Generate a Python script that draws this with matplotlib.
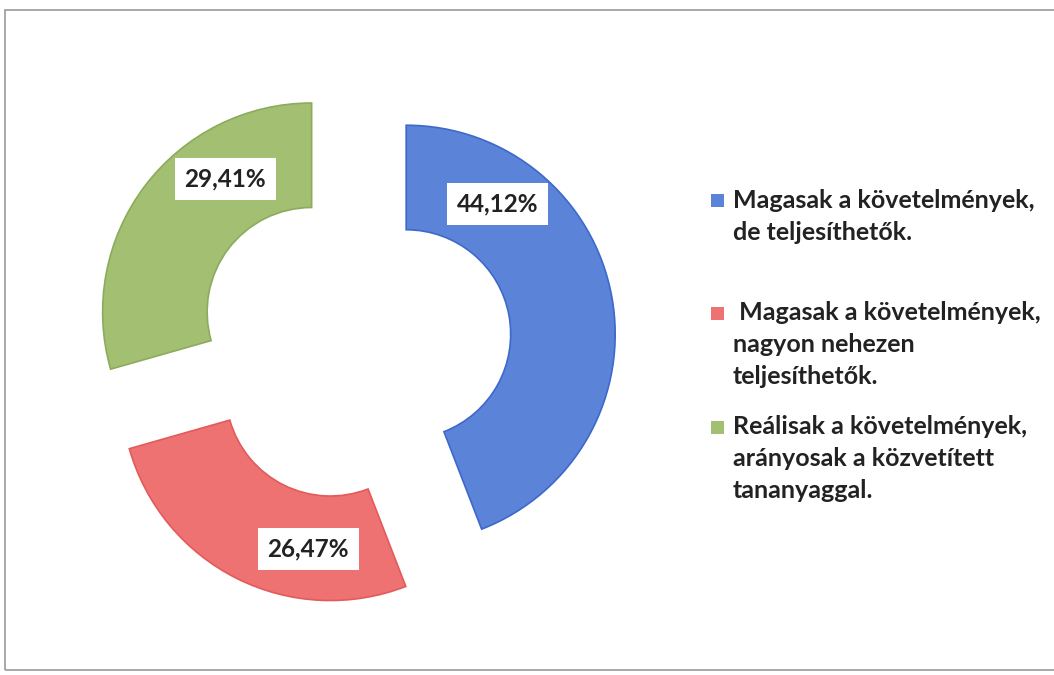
import matplotlib
matplotlib.use("Agg")
import matplotlib.pyplot as plt
from matplotlib.patches import Rectangle
import numpy as np

# ---- data ----
categories = [
    "Magasak a követelmények,\nde teljesíthetők.",
    " Magasak a követelmények,\nnagyon nehezen\nteljesíthetők.",
    "Reálisak a követelmények,\narányosak a közvetített\ntananyaggal.",
]
values = [44.12, 26.47, 29.41]
value_labels = ["44,12%", "26,47%", "29,41%"]

# ---- style ----
colors = ["#5b83d8", "#ef7272", "#a3bf72"]
edges = ["#3d68cc", "#e35a5a", "#8cab5c"]
label_angles = [55, -98, 123]   # where the value boxes sit on each ring segment
FONT = "Lato"

W, H = 1054, 675
CX, CY, R = 354, 344, 209  # pixel geometry of the donut


def px(x, y):
    return (x - CX) / R, (CY - y) / R


fig = plt.figure(figsize=(W / 100, H / 100), dpi=100)
ax = fig.add_axes([0, 0, 1, 1])

wedges, _ = ax.pie(values, colors=colors, startangle=90, counterclock=False,
                   radius=1, explode=[0.254] * 3,
                   wedgeprops=dict(width=0.5, linewidth=1.2))
for w, ec in zip(wedges, edges):
    w.set_edgecolor(ec)

ax.set_xlim(px(0, 0)[0], px(W, 0)[0])
ax.set_ylim(px(0, H)[1], px(0, 0)[1])
ax.set_aspect("equal")
ax.axis("off")

# frame
x0, y0 = px(5, 10)
x1, y1 = px(1064, 670)
ax.add_patch(Rectangle((x0, y1), x1 - x0, y0 - y1, fill=False,
                       edgecolor="#9a9a9a", lw=1.2, zorder=0))

for w, lab, a in zip(wedges, value_labels, label_angles):
    cx, cy = w.center
    r = 0.76
    ax.text(cx + r * np.cos(np.radians(a)), cy + r * np.sin(np.radians(a)), lab,
            ha="center", va="center", fontsize=17.5, fontweight="bold",
            family=FONT, color="#222222",
            bbox=dict(boxstyle="square,pad=0.4", fc="white", ec="none"))

# legend (manual, to mimic Excel wrapping)
item_tops = [200, 313, 427]
pitch = 32
for cat, col, ytop in zip(categories, colors, item_tops):
    mx, my = px(711, ytop - 6)
    ax.add_patch(Rectangle((mx, my - 13 / R), 13 / R, 13 / R, facecolor=col,
                           edgecolor="none"))
    for i, line in enumerate(cat.split("\n")):
        tx, ty = px(733, ytop + i * pitch)
        ax.text(tx, ty, line, ha="left", va="center", fontsize=18,
                fontweight="bold", family=FONT, color="#222222")

fig.savefig("out.png", dpi=100)
